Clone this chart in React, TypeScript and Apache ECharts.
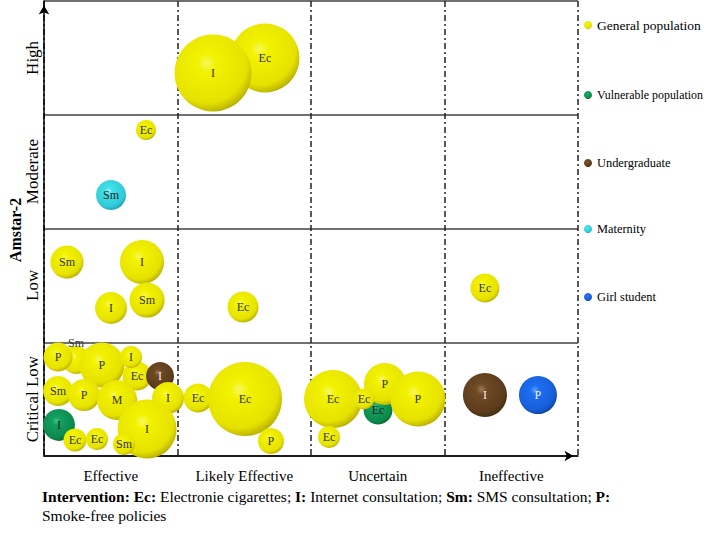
import React, { useEffect, useRef } from "react";
import * as echarts from "echarts";

// Effectiveness categories (x) and AMSTAR-2 quality levels (y)
const effectCategories = ["Effective", "Likely Effective", "Uncertain", "Ineffective"];
const amstarLevels = ["Critical Low", "Low", "Moderate", "High"];
const populations = ["General population", "Vulnerable population", "Undergraduate", "Maternity", "Girl student"];

// Bubbles (drawing order): intervention label, x score, y score, bubble size, population
const bubbleLabels = [
  "Sm", "P", "P", "Ec", "I", "I", "Sm", "P", "M", "I", "I", "Ec", "Ec", "I", "Sm",
  "Ec", "Ec", "P",
  "Ec", "Ec", "P", "P", "Ec", "Ec",
  "I", "P",
  "Sm", "I", "I", "Sm", "Ec", "Ec",
  "Ec", "Sm",
  "Ec", "I",
];
const effectScore = [
  0.240, 0.105, 0.434, 0.697, 0.652, 0.869, 0.105, 0.300, 0.547, 0.929, 0.112, 0.232, 0.397, 0.772, 0.599,
  1.154, 1.506, 1.700,
  2.165, 2.502, 2.554, 2.801, 2.397, 2.135,
  3.303, 3.700,
  0.172, 0.734, 0.502, 0.772, 1.491, 3.303,
  0.764, 0.502,
  1.655, 1.266,
];
const amstarScore = [
  0.844, 0.870, 0.800, 0.703, 0.870, 0.703, 0.571, 0.536, 0.492, 0.510, 0.273, 0.141, 0.149, 0.237, 0.105,
  0.510, 0.501, 0.132,
  0.501, 0.404, 0.633, 0.501, 0.501, 0.167,
  0.536, 0.536,
  1.705, 1.705, 1.301, 1.371, 1.310, 1.477,
  2.866, 2.295,
  3.499, 3.367,
];
const bubbleSizes = [
  28, 29, 45, 29, 22, 28, 30, 32, 40, 32, 32, 23, 22, 59, 22,
  29, 74, 26,
  58, 29, 42, 55, 21, 22,
  44, 38,
  33, 44, 32, 35, 31, 29,
  20, 30,
  69, 77,
];
const bubblePopulation = [
  0, 0, 0, 0, 0, 2, 0, 0, 0, 0, 1, 0, 0, 0, 0,
  0, 0, 0,
  0, 1, 0, 0, 0, 0,
  2, 4,
  0, 0, 0, 0, 0, 0,
  0, 3,
  0, 0,
];

const SERIF = "'Liberation Serif', 'Times New Roman', serif";

const palette = [
  { light: "#f8f860", mid: "#f2f200", mid2: "#e6e200", rim: "#c0b800", dark: "#8a8200", text: "#333" },
  { light: "#3cc888", mid: "#12a060", mid2: "#0c8a4c", rim: "#087038", dark: "#064a28", text: "#222" },
  { light: "#9c7a52", mid: "#6e4a26", mid2: "#5c3c1c", rim: "#46300f", dark: "#2e1c08", text: "#f4ece4" },
  { light: "#9af4fa", mid: "#40e0ea", mid2: "#30cad8", rim: "#22a8ba", dark: "#178a9c", text: "#222" },
  { light: "#5a9cff", mid: "#1e6ef0", mid2: "#185ed8", rim: "#1048b0", dark: "#08308a", text: "#eef4ff" },
];

function sphere(p: any) {
  return {
    type: "radial",
    x: 0.42,
    y: 0.37,
    r: 0.7,
    colorStops: [
      { offset: 0, color: p.light },
      { offset: 0.18, color: p.mid },
      { offset: 0.74, color: p.mid2 },
      { offset: 0.9, color: p.rim },
      { offset: 1, color: p.dark },
    ],
  };
}

const legendCenters = [26, 96, 164, 230, 298];
const legendFontSizes = [13.5, 11.9, 12.4, 12.4, 12.4];

export default function App() {
  const ref = useRef<HTMLDivElement>(null);
  useEffect(() => {
    if (!ref.current) return;
    const chart = echarts.init(ref.current, null, { renderer: "svg" });

    const data = bubbleLabels.map((lab, i) => {
      const p = palette[bubblePopulation[i]];
      const item: any = {
        name: lab,
        value: [effectScore[i], amstarScore[i], bubbleSizes[i]],
        itemStyle: { color: sphere(p), opacity: 1 },
        label: { color: p.text },
      };
      if (i === 0) item.label.offset = [0, -17];
      return item;
    });

    const legendSeries = populations.map((name, k) => ({
      name,
      type: "scatter",
      data: [],
      itemStyle: { color: sphere(palette[k]), opacity: 1 },
    }));

    const option: any = {
      animation: false,
      grid: { left: 44, right: 130, top: 1, bottom: 78, outerBoundsMode: "none" },
      legend: populations.map((name, k) => ({
        data: [name],
        left: 579,
        top: legendCenters[k] - 13,
        orient: "vertical",
        icon: "circle",
        itemWidth: 8,
        itemHeight: 8,
        selectedMode: false,
        itemStyle: { opacity: 1 },
        textStyle: { fontFamily: SERIF, fontSize: legendFontSizes[k], color: "#000", lineHeight: 14 },
      })),
      xAxis: {
        type: "value",
        min: 0,
        max: 4,
        interval: 1,
        axisLine: {
          show: true,
          lineStyle: { color: "#000", width: 1.5 },
          symbol: ["none", "arrow"],
          symbolSize: [8, 9],
          symbolOffset: [0, -4.5],
        },
        axisTick: { show: false },
        axisLabel: {
          customValues: [0.5, 1.5, 2.5, 3.5],
          formatter: (v: number) => effectCategories[Math.floor(v)],
          fontFamily: SERIF,
          fontSize: 15,
          color: "#000",
          margin: 12,
        },
        splitLine: {
          show: true,
          lineStyle: { color: "#222", width: 1.5, type: [6, 3, 2, 3] },
        },
      },
      yAxis: {
        type: "value",
        min: 0,
        max: 4,
        interval: 1,
        axisLine: {
          show: true,
          lineStyle: { color: "#000", width: 1.5 },
          symbol: ["none", "arrow"],
          symbolSize: [8, 9],
          symbolOffset: [0, -4.5],
        },
        axisTick: { show: false },
        axisLabel: {
          customValues: [0.5, 1.5, 2.5, 3.5],
          formatter: (v: number) => amstarLevels[Math.floor(v)],
          rotate: 90,
          fontFamily: SERIF,
          fontSize: 17,
          color: "#000",
          margin: 3,
        },
        splitLine: { show: true, lineStyle: { color: "#404040", width: 1.5, type: "solid" } },
      },
      series: [
        {
          name: "bubbles",
          type: "scatter",
          data,
          symbol: "circle",
          symbolSize: (v: number[]) => v[2],
          itemStyle: { opacity: 1 },
          label: {
            show: true,
            position: "inside",
            formatter: (p: any) => p.name,
            fontFamily: SERIF,
            fontSize: 12,
          },
          emphasis: { disabled: true },
          z: 3,
        },
        ...legendSeries,
      ],
      graphic: [
        {
          type: "text",
          x: 15,
          y: 230,
          rotation: Math.PI / 2,
          style: {
            text: "Amstar-2",
            align: "center",
            verticalAlign: "middle",
            fontFamily: SERIF,
            fontSize: 16,
            fontWeight: "bold",
            fill: "#000",
          },
        },
        {
          type: "text",
          left: 42,
          top: 487,
          style: {
            text:
              "{b|Intervention:} {b|Ec:} Electronie cigarettes; {b|I:} Internet consultation; {b|Sm:} SMS consultation; {b|P:}\nSmoke-free policies",
            fontFamily: SERIF,
            fontSize: 15.5,
            lineHeight: 19,
            fill: "#000",
            rich: {
              b: { fontFamily: SERIF, fontSize: 15.5, fontWeight: "bold", lineHeight: 19, fill: "#000" },
            },
          },
        },
      ],
    };
    chart.setOption(option);
    return () => chart.dispose();
  }, []);
  return <div ref={ref} style={{ width: 708, height: 534, position: "absolute", left: 0, top: 0 }} />;
}
